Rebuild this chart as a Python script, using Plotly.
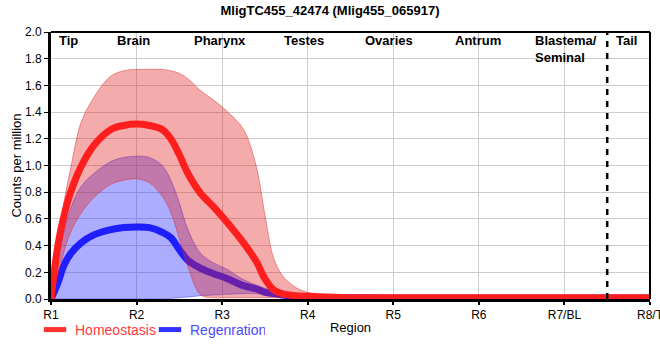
import plotly.graph_objects as go

title_text = "MligTC455_42474 (Mlig455_065917)"
tick_labels = ["R1", "R2", "R3", "R4", "R5", "R6", "R7/BL", "R8/T"]
region_labels = ["Tip", "Brain", "Pharynx", "Testes", "Ovaries", "Antrum", "Blastema/<br>Seminal", "Tail"]
region_label_pos = [0.21, 0.96, 1.98, 2.96, 3.95, 4.99, 6.02, 6.73]
divider_pos = 6.5

# positions along the body, in region units (R1 = 0 ... R8 = 7)
pos = [0, 0.08, 0.15, 0.23, 0.35, 0.5, 0.7, 0.85, 1.0, 1.15,
       1.3, 1.4, 1.5, 1.6, 1.75, 1.9, 2.05, 2.25, 2.4, 2.5,
       2.6, 2.7, 2.85, 3.0, 3.2, 3.5, 4, 5, 6, 7]

homeo_mean = [0, 0.40, 0.62, 0.80, 0.99, 1.15, 1.27, 1.30, 1.31, 1.30,
              1.27, 1.20, 1.08, 0.94, 0.79, 0.69, 0.58, 0.42, 0.28, 0.15,
              0.07, 0.04, 0.025, 0.02, 0.015, 0.01, 0.01, 0.01, 0.01, 0.01]
homeo_upper = [0, 0.42, 0.72, 0.98, 1.32, 1.51, 1.67, 1.71, 1.72, 1.72,
               1.72, 1.71, 1.69, 1.65, 1.56, 1.49, 1.41, 1.27, 0.99, 0.63,
               0.31, 0.18, 0.09, 0.05, 0.03, 0.02, 0.015, 0.01, 0.01, 0.01]
homeo_lower = [0, 0.18, 0.35, 0.50, 0.64, 0.76, 0.86, 0.89, 0.90, 0.87,
               0.77, 0.65, 0.45, 0.24, 0.03, 0.01, 0.01, 0.01, 0.01, 0.01,
               0.01, 0.01, 0.01, 0.01, 0.01, 0.005, 0.005, 0.005, 0.005, 0.005]

regen_mean = [0, 0.12, 0.25, 0.34, 0.42, 0.48, 0.52, 0.535, 0.54, 0.535,
              0.50, 0.46, 0.37, 0.29, 0.23, 0.19, 0.155, 0.10, 0.075, 0.05,
              0.04, 0.03, 0.02, 0.015, 0.01, 0.01, 0.008, 0.008, 0.008, 0.008]
regen_upper = [0, 0.30, 0.50, 0.68, 0.84, 0.94, 1.03, 1.06, 1.07, 1.06,
               1.00, 0.89, 0.72, 0.52, 0.34, 0.27, 0.225, 0.145, 0.105, 0.08,
               0.065, 0.055, 0.04, 0.035, 0.025, 0.015, 0.01, 0.01, 0.01, 0.01]
regen_lower = [0, 0, 0, 0, 0, 0, 0, 0, 0, 0,
               0, 0.005, 0.01, 0.015, 0.025, 0.03, 0.035, 0.04, 0.04, 0.035,
               0.03, 0.03, 0.025, 0.02, 0.015, 0.01, 0.005, 0.005, 0.005, 0.005]

RED_FILL = "rgba(225,35,35,0.38)"
RED_EDGE = "rgba(225,35,35,0.45)"
BLUE_FILL = "rgba(40,40,255,0.38)"
BLUE_EDGE = "rgba(40,40,255,0.45)"
RED_LINE = "rgb(255,30,30)"
BLUE_LINE = "rgb(30,30,255)"

fig = go.Figure()

# Regeneration band
fig.add_trace(go.Scatter(x=pos, y=regen_lower, mode="lines", line=dict(color=BLUE_EDGE, width=1, shape="spline"),
                         showlegend=False, hoverinfo="skip"))
fig.add_trace(go.Scatter(x=pos, y=regen_upper, mode="lines", fill="tonexty", fillcolor=BLUE_FILL,
                         line=dict(color=BLUE_EDGE, width=1, shape="spline"), showlegend=False, hoverinfo="skip"))
fig.add_trace(go.Scatter(x=pos, y=regen_mean, mode="lines", line=dict(color=BLUE_LINE, width=7, shape="spline"),
                         showlegend=False, hoverinfo="skip"))

# Homeostasis band
fig.add_trace(go.Scatter(x=pos, y=homeo_lower, mode="lines", line=dict(color=RED_EDGE, width=1, shape="spline"),
                         showlegend=False, hoverinfo="skip"))
fig.add_trace(go.Scatter(x=pos, y=homeo_upper, mode="lines", fill="tonexty", fillcolor=RED_FILL,
                         line=dict(color=RED_EDGE, width=1, shape="spline"), showlegend=False, hoverinfo="skip"))
fig.add_trace(go.Scatter(x=pos, y=homeo_mean, mode="lines", line=dict(color=RED_LINE, width=7, shape="spline"),
                         showlegend=False, hoverinfo="skip"))

# legend entries (rectangular swatches like the reference)
for nm, col, txtcol in [("Homeostasis", "rgb(255,50,50)", "#ff3b3b"), ("Regenration", "rgb(50,50,255)", "#4a4aff")]:
    fig.add_trace(go.Scatter(x=[None], y=[None], mode="markers",
                             marker=dict(symbol="line-ew", size=16, line=dict(color=col, width=8)),
                             name=f'<span style="color:{txtcol}">{nm}</span>', showlegend=True))

annotations = []
for lab, p in zip(region_labels, region_label_pos):
    annotations.append(dict(x=p, y=1, xref="x", yref="paper", yanchor="top", xanchor="center",
                            text=lab, showarrow=False, align="left", yshift=1,
                            font=dict(family="Arial", size=13, color="black", weight="bold")))

shapes = [
    dict(type="line", xref="x", yref="paper", x0=divider_pos, x1=divider_pos, y0=0, y1=1,
         line=dict(color="black", width=2.5, dash="6px,6px"), layer="above"),
    dict(type="line", xref="paper", yref="paper", x0=0, x1=1, y0=1, y1=1,
         line=dict(color="black", width=2), layer="above"),
    dict(type="line", xref="paper", yref="paper", x0=1, x1=1, y0=0, y1=1,
         line=dict(color="black", width=2), layer="above"),
]

fig.update_layout(
    width=660, height=360,
    margin=dict(l=51, r=10, t=32, b=61, autoexpand=False),
    paper_bgcolor="white", plot_bgcolor="white",
    title=dict(text=title_text, x=0.5, xanchor="center", y=0.985, yanchor="top",
               font=dict(family="Arial", size=13, color="black", weight="bold")),
    font=dict(family="Arial", size=12, color="black"),
    showlegend=True,
    legend=dict(orientation="h", x=-0.0267, xanchor="left", y=-0.116, yanchor="middle",
                traceorder="normal", entrywidth=70,
                font=dict(family="Arial", size=14), bgcolor="rgba(0,0,0,0)", itemwidth=30),
    annotations=annotations,
    shapes=shapes,
)

fig.update_xaxes(range=[0, 7], tickvals=list(range(len(tick_labels))), ticktext=tick_labels,
                 automargin=False, ticklabeloverflow="allow",
                 showgrid=True, gridcolor="#cccccc", gridwidth=1,
                 showline=True, linecolor="black", linewidth=3,
                 ticks="outside", ticklen=3, tickwidth=1.5, tickcolor="black",
                 zeroline=False, tickfont=dict(family="Arial", size=12, color="black"),
                 title=dict(text="Region", font=dict(family="Arial", size=13), standoff=2))
fig.update_yaxes(range=[0, 2.0], dtick=0.2, tickformat=".1f",
                 automargin=False,
                 showgrid=True, gridcolor="#cccccc", gridwidth=1,
                 showline=True, linecolor="black", linewidth=3,
                 ticks="outside", ticklen=4, tickwidth=1, tickcolor="black",
                 zeroline=False, tickfont=dict(family="Arial", size=12, color="black"),
                 title=dict(text="Counts per million", font=dict(family="Arial", size=13), standoff=1))

fig.write_html("out.html", config={"displayModeBar": False})

# remove the browser's default page margin so the figure sits at the window origin
with open("out.html", "r", encoding="utf-8") as f:
    html = f.read()
html = html.replace("<head>", "<head><style>html,body{margin:0;padding:0;}</style>", 1)
with open("out.html", "w", encoding="utf-8") as f:
    f.write(html)
